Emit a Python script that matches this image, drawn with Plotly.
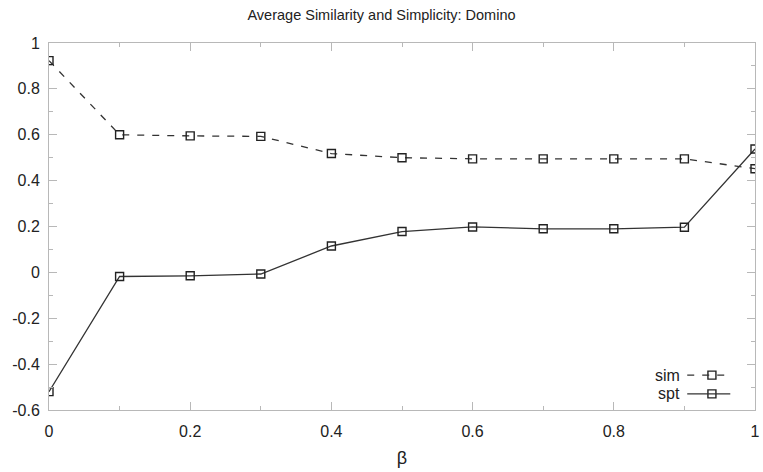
import plotly.graph_objects as go

beta = [0, 0.1, 0.2, 0.3, 0.4, 0.5, 0.6, 0.7, 0.8, 0.9, 1.0]
sim = [0.923, 0.600, 0.595, 0.593, 0.518, 0.500, 0.495, 0.495, 0.495, 0.495, 0.452]
spt = [-0.520, -0.018, -0.015, -0.007, 0.115, 0.178, 0.198, 0.190, 0.190, 0.197, 0.538]

y_ticks = [1, 0.8, 0.6, 0.4, 0.2, 0, -0.2, -0.4, -0.6]
y_labels = ["1", "0.8", "0.6", "0.4", "0.2", "0", "-0.2", "-0.4", "-0.6"]
x_ticks = [0, 0.2, 0.4, 0.6, 0.8, 1]
x_labels = ["0", "0.2", "0.4", "0.6", "0.8", "1"]

FONT = "Liberation Sans, Arial, sans-serif"
LINE = "#333333"
AX = "#b8b8b8"
DASH = "7px,8px"

marker = dict(symbol="square-open", size=8, color="#222222", line=dict(width=1.4))

fig = go.Figure()
fig.add_trace(go.Scatter(x=beta, y=sim, mode="lines+markers", name="sim",
                         line=dict(color=LINE, width=1.3, dash=DASH), marker=marker,
                         showlegend=False))
fig.add_trace(go.Scatter(x=beta, y=spt, mode="lines+markers", name="spt",
                         line=dict(color=LINE, width=1.3), marker=marker,
                         showlegend=False))

# manual legend (text on the left of the sample, gnuplot style)
leg = [("sim", DASH, 0.095), ("spt", "solid", 0.044)]
for name, dash, yy in leg:
    fig.add_annotation(x=0.896, y=yy, xref="paper", yref="paper", text=name,
                       showarrow=False, xanchor="right", yanchor="middle",
                       font=dict(family=FONT, size=16, color="#222"))
    fig.add_shape(type="line", xref="paper", yref="paper", x0=0.904, x1=0.965,
                  y0=yy, y1=yy, line=dict(color=LINE, width=1.3, dash=dash))
    fig.add_trace(go.Scatter(x=[0.939], y=[yy], xaxis="x2", yaxis="y2", mode="markers",
                             marker=marker, showlegend=False, hoverinfo="skip"))

axis_common = dict(showline=True, linecolor=AX, linewidth=1, mirror="allticks",
                   ticks="inside", ticklen=8, tickcolor=AX, showgrid=False, zeroline=False,
                   automargin=False,
                   tickfont=dict(family=FONT, size=16, color="#222"))

fig.update_layout(
    width=763, height=472,
    margin=dict(l=49, r=8, t=43, b=62, autoexpand=False),
    paper_bgcolor="white", plot_bgcolor="white",
    title=dict(text="Average Similarity and Simplicity: Domino", x=0.5, xanchor="center",
               y=0.968, yanchor="middle",
               font=dict(family=FONT, size=14.5, color="#222")),
    xaxis=dict(range=[0, 1], tickvals=x_ticks, ticktext=x_labels, ticklabelstandoff=7,
               minor=dict(ticks="inside", ticklen=4, dtick=0.1, tickcolor=AX),
               title=dict(text="β", font=dict(family=FONT, size=18, color="#222"), standoff=12),
               **axis_common),
    yaxis=dict(range=[-0.6, 1], tickvals=y_ticks, ticktext=y_labels, ticklabelstandoff=5,
               minor=dict(ticks="inside", ticklen=4, dtick=0.1, tickcolor=AX),
               **axis_common),
    xaxis2=dict(range=[0, 1], overlaying="x", visible=False, domain=[0, 1]),
    yaxis2=dict(range=[0, 1], overlaying="y", visible=False),
)

fig.write_html("out.html")
